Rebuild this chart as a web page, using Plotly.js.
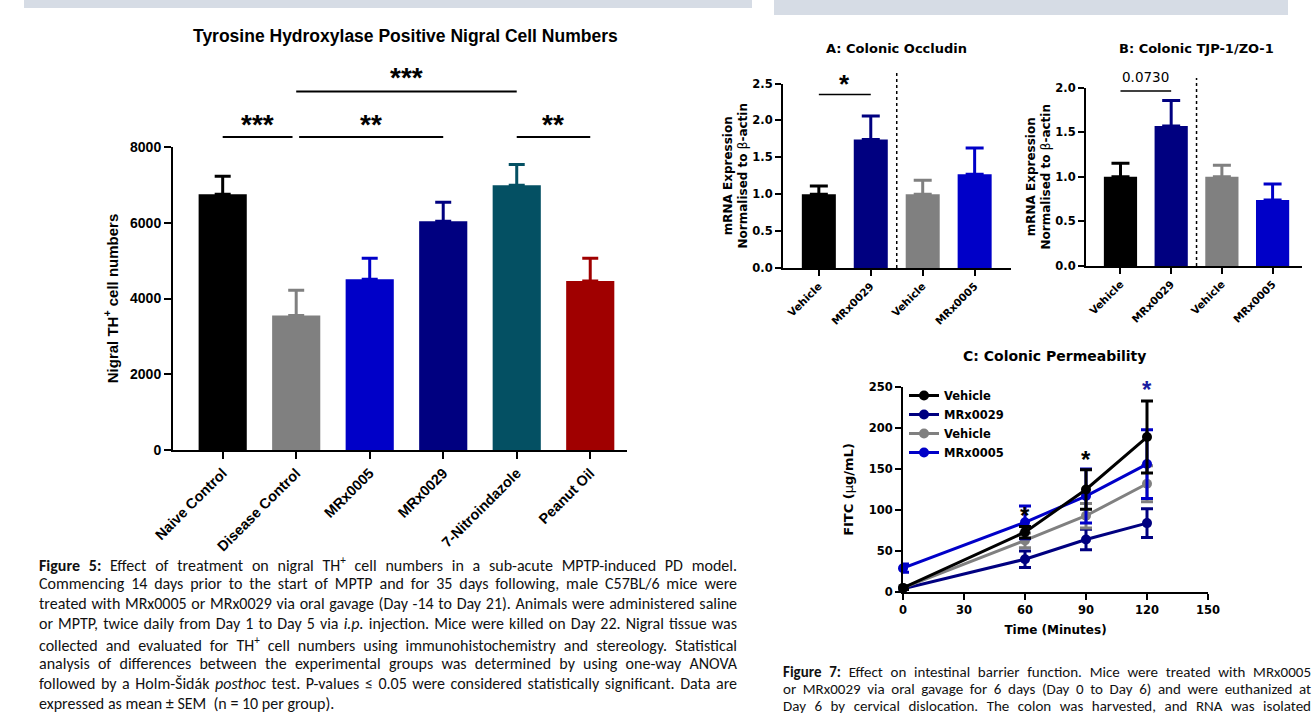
<!DOCTYPE html>
<html><head><meta charset="utf-8">
<script src="https://cdn.plot.ly/plotly-3.0.1.min.js"></script>
<style>html,body{margin:0;padding:0;background:#fff;overflow:hidden}</style>
</head><body>
<div id="chart" style="width:1316px;height:716px"></div>
<script>
// ---------- Figure 5: TH+ nigral cell numbers ----------
const thCategories = ["Naive Control", "Disease Control", "MRx0005", "MRx0029", "7-Nitroindazole", "Peanut Oil"];
const thMeans = [6750, 3550, 4510, 6040, 6990, 4460];
const thSEM = [480, 670, 550, 500, 545, 600];
const thColors = ["#000000", "#808080", "#0000c8", "#000080", "#045063", "#a00000"];
const thYTicks = [0, 2000, 4000, 6000, 8000];

// ---------- Figure 7 A/B: mRNA expression ----------
const geneCategories = ["Vehicle", "MRx0029", "Vehicle", "MRx0005"];
const occludinMeans = [1.00, 1.74, 1.00, 1.27];
const occludinSEM = [0.11, 0.32, 0.19, 0.355];
const tjpMeans = [1.00, 1.57, 1.00, 0.74];
const tjpSEM = [0.15, 0.285, 0.13, 0.18];
const geneColors = ["#000000", "#000080", "#808080", "#0000c8"];

// ---------- Figure 7 C: FITC permeability ----------
const timeMinutes = [0, 60, 90, 120];
const fitcVehicleA = [5, 73, 125, 189];
const fitcVehicleASEM = [2, 7, 24, 44];
const fitcMRx0029 = [4, 40, 64, 84];
const fitcMRx0029SEM = [1, 10, 12.5, 17.5];
const fitcVehicleB = [5, 63, 93, 132];
const fitcVehicleBSEM = [1, 9, 15, 22];
const fitcMRx0005 = [29, 85, 117, 156];
const fitcMRx0005SEM = [5, 20, 33, 42];

// ---------- helpers ----------
const W = 1316, H = 716;
const PX = p => p / W;
const PY = p => 1 - p / H;
const FONT = "Arial, 'Liberation Sans', sans-serif";
const FONT7 = "'DejaVu Sans', Verdana, sans-serif";
const CAPFONT = "Carlito, Calibri, Lato, sans-serif";
const bold = (size, color, fam) => ({family: fam || FONT, size: size, color: color || "#000", weight: 700});
const bold7 = (size, color) => bold(size, color, FONT7);

const traces = [];

// Figure 5 bars (one trace per group so each error bar takes its bar colour)
thCategories.forEach((c, i) => {
  traces.push({
    type: "bar", x: [i], y: [thMeans[i]], width: 0.655, name: c, showlegend: false,
    marker: {color: thColors[i], line: {width: 0}},
    error_y: {type: "data", symmetric: false, array: [thSEM[i]], arrayminus: [0],
      color: thColors[i], thickness: 3, width: 8},
    xaxis: "x", yaxis: "y"
  });
});

// Figure 7 A and B bars
function geneBars(means, sem, xa, ya) {
  geneCategories.forEach((c, i) => {
    traces.push({
      type: "bar", x: [i], y: [means[i]], width: 0.655, name: c, showlegend: false,
      marker: {color: geneColors[i], line: {width: 0}},
      error_y: {type: "data", symmetric: false, array: [sem[i]], arrayminus: [0],
        color: geneColors[i], thickness: 3, width: 9},
      xaxis: xa, yaxis: ya
    });
  });
}
geneBars(occludinMeans, occludinSEM, "x2", "y2");
geneBars(tjpMeans, tjpSEM, "x3", "y3");

// Figure 7 C lines (black vehicle drawn last so it sits on top)
function fitcLine(name, y, e, color, rank) {
  traces.push({
    type: "scatter", mode: "lines+markers", x: timeMinutes, y: y, name: name,
    line: {color: color, width: 3}, marker: {color: color, size: 10},
    error_y: {type: "data", array: e, color: color, thickness: 3, width: 6},
    cliponaxis: false, legendrank: rank, xaxis: "x4", yaxis: "y4"
  });
}
fitcLine("MRx0029", fitcMRx0029, fitcMRx0029SEM, "#000080", 2);
fitcLine("Vehicle", fitcVehicleB, fitcVehicleBSEM, "#808080", 3);
fitcLine("MRx0005", fitcMRx0005, fitcMRx0005SEM, "#0000c8", 4);
fitcLine("Vehicle", fitcVehicleA, fitcVehicleASEM, "#000000", 1);

const axBase = {
  showline: true, linecolor: "#000", linewidth: 2, ticks: "outside", tickcolor: "#000",
  tickwidth: 2, showgrid: false, zeroline: false, fixedrange: true
};
const yTitle7 = "mRNA Expression<br>Normalised to <span style='font-weight:normal'>β</span>-actin";

const layout = {
  width: W, height: H, autosize: false,
  margin: {l: 0, r: 0, t: 0, b: 0, pad: 0},
  paper_bgcolor: "#fff", plot_bgcolor: "rgba(0,0,0,0)",
  barmode: "overlay", font: {family: FONT, color: "#000"},
  showlegend: true,
  legend: {x: PX(904), y: PY(381), xanchor: "left", yanchor: "top", bgcolor: "rgba(0,0,0,0)",
    font: bold7(11.5), itemwidth: 30, tracegroupgap: 0},

  // Figure 5
  xaxis: Object.assign({}, axBase, {domain: [PX(173), PX(627)], range: [-0.676, 5.5],
    tickvals: thCategories.map((c, i) => i), ticktext: thCategories, tickangle: -45,
    ticklen: 7, tickfont: bold(14.5), anchor: "y"}),
  yaxis: Object.assign({}, axBase, {domain: [PY(450), PY(147)], range: [0, 8000],
    tickvals: thYTicks, ticklen: 7, tickfont: bold(14), anchor: "x",
    title: {text: "Nigral TH<sup>+</sup> cell numbers", font: bold(15), standoff: 8}}),

  // Figure 7 A
  xaxis2: Object.assign({}, axBase, {domain: [PX(783), PX(1011)], range: [-0.69, 3.7],
    tickvals: geneCategories.map((c, i) => i), ticktext: geneCategories, tickangle: -45,
    ticklen: 6, tickfont: bold7(10.5), anchor: "y2"}),
  yaxis2: Object.assign({}, axBase, {domain: [PY(268), PY(83.5)], range: [0, 2.5], dtick: 0.5,
    tickformat: ".1f", ticklen: 6, tickfont: bold7(11.5), anchor: "x2",
    title: {text: yTitle7, font: bold7(12), standoff: 2}}),

  // Figure 7 B
  xaxis3: Object.assign({}, axBase, {domain: [PX(1086), PX(1302)], range: [-0.68, 3.58],
    tickvals: geneCategories.map((c, i) => i), ticktext: geneCategories, tickangle: -45,
    ticklen: 6, tickfont: bold7(10.5), anchor: "y3"}),
  yaxis3: Object.assign({}, axBase, {domain: [PY(266), PY(87.5)], range: [0, 2.0], dtick: 0.5,
    tickformat: ".1f", ticklen: 6, tickfont: bold7(11.5), anchor: "x3",
    title: {text: yTitle7, font: bold7(12), standoff: 2}}),

  // Figure 7 C
  xaxis4: Object.assign({}, axBase, {domain: [PX(903), PX(1208)], range: [0, 150], dtick: 30,
    ticklen: 6, tickfont: bold7(11.5), anchor: "y4",
    title: {text: "Time (Minutes)", font: bold7(12), standoff: 10}}),
  yaxis4: Object.assign({}, axBase, {domain: [PY(592), PY(387)], range: [0, 250], dtick: 50,
    ticklen: 6, tickfont: bold7(11.5), anchor: "x4",
    title: {text: "FITC (<span style='font-weight:normal'>μ</span>g/mL)", font: bold7(13), standoff: 12}}),

  shapes: [], annotations: []
};

// header bands
layout.shapes.push({type: "rect", xref: "paper", yref: "paper", x0: PX(24), x1: PX(752), y0: PY(8), y1: 1,
  fillcolor: "#d6dce5", line: {width: 0}, layer: "below"});
layout.shapes.push({type: "rect", xref: "paper", yref: "paper", x0: PX(774), x1: PX(1288), y0: PY(15), y1: 1,
  fillcolor: "#d6dce5", line: {width: 0}, layer: "below"});

// significance brackets: from/to in category index, heights in page pixels
const sigMain = [
  {a: 0, b: 0.95, py: 137, sy: 124.5, t: "***"},
  {a: 1.04, b: 3, py: 137, sy: 124.5, t: "**"},
  {a: 4, b: 5, py: 137, sy: 124.5, t: "**"},
  {a: 1, b: 4, py: 91.5, sy: 77.5, t: "***"}
];
sigMain.forEach(s => {
  layout.shapes.push({type: "line", xref: "x", yref: "paper", x0: s.a, x1: s.b, y0: PY(s.py), y1: PY(s.py),
    line: {color: "#000", width: 2}});
  layout.annotations.push({xref: "x", yref: "paper", x: (s.a + s.b) / 2, y: PY(s.sy),
    text: s.t, showarrow: false, font: bold(28), yanchor: "middle"});
});
// A
layout.shapes.push({type: "line", xref: "x2", yref: "paper", x0: 0, x1: 1, y0: PY(94.5), y1: PY(94.5), line: {color: "#000", width: 1.5}});
layout.annotations.push({xref: "x2", yref: "paper", x: 0.5, y: PY(84.5), text: "*", showarrow: false, font: bold(26), yanchor: "middle"});
layout.shapes.push({type: "line", xref: "x2", yref: "paper", x0: 1.5, x1: 1.5, y0: PY(268), y1: PY(73), line: {color: "#000", width: 1.5, dash: "dot"}});
// B
layout.shapes.push({type: "line", xref: "x3", yref: "paper", x0: 0, x1: 1, y0: PY(91), y1: PY(91), line: {color: "#000", width: 1.5}});
layout.annotations.push({xref: "x3", yref: "paper", x: 0.5, y: PY(76.5), text: "0.0730", showarrow: false,
  yanchor: "middle", font: {family: FONT7, size: 13.5, color: "#000"}});
layout.shapes.push({type: "line", xref: "x3", yref: "paper", x0: 1.5, x1: 1.5, y0: PY(266), y1: PY(78), line: {color: "#000", width: 1.5, dash: "dot"}});
// C stars
layout.annotations.push({xref: "x4", yref: "y4", x: 60, y: 93, text: "*", showarrow: false, font: bold(24)});
layout.annotations.push({xref: "x4", yref: "y4", x: 90, y: 161, text: "*", showarrow: false, font: bold(24)});
layout.annotations.push({xref: "x4", yref: "y4", x: 120, y: 247, text: "*", showarrow: false, font: bold(24, "#1c1ca0")});

// panel titles
const titles = [
  {x: 405, y: 36, t: "Tyrosine Hydroxylase Positive Nigral Cell Numbers", f: bold(17.5)},
  {x: 896, y: 48, t: "A: Colonic Occludin", f: bold7(13)},
  {x: 1196, y: 48, t: "B: Colonic TJP-1/ZO-1", f: bold7(13)},
  {x: 1054, y: 356, t: "C: Colonic Permeability", f: bold7(14)}
];
titles.forEach(o => layout.annotations.push({xref: "paper", yref: "paper", x: PX(o.x), y: PY(o.y),
  text: o.t, showarrow: false, font: o.f, xanchor: "center", yanchor: "middle"}));

// captions
const caption5 = [
  "<b>Figure 5:</b> Effect of treatment on nigral TH<sup>+</sup> cell numbers in a sub-acute MPTP-induced PD model.",
  "Commencing 14 days prior to the start of MPTP and for 35 days following, male C57BL/6 mice were",
  "treated with MRx0005 or MRx0029 via oral gavage (Day -14 to Day 21). Animals were administered saline",
  "or MPTP, twice daily from Day 1 to Day 5 via <i>i.p.</i> injection. Mice were killed on Day 22. Nigral tissue was",
  "collected and evaluated for TH<sup>+</sup> cell numbers using immunohistochemistry and stereology. Statistical",
  "analysis of differences between the experimental groups was determined by using one-way ANOVA",
  "followed by a Holm-Šidák <i>posthoc</i> test. P-values ≤ 0.05 were considered statistically significant. Data are",
  "expressed as mean ± SEM  (n = 10 per group)."
];
const caption7 = [
  "<b>Figure 7:</b> Effect on intestinal barrier function. Mice were treated with MRx0005",
  "or MRx0029 via oral gavage for 6 days (Day 0 to Day 6) and were euthanized at",
  "Day 6 by cervical dislocation. The colon was harvested, and RNA was isolated"
];
const justifyJobs = [];
caption5.forEach((t, i) => {
  if (i < caption5.length - 1) justifyJobs.push({idx: layout.annotations.length, width: 698});
  layout.annotations.push({xref: "paper", yref: "paper", x: PX(37), y: PY(564 + i * 19.9),
    text: t, showarrow: false, xanchor: "left", yanchor: "middle", align: "left",
    font: {family: CAPFONT, size: 16, color: "#111"}});
});
caption7.forEach((t, i) => {
  justifyJobs.push({idx: layout.annotations.length, width: 528});
  layout.annotations.push({xref: "paper", yref: "paper", x: PX(781), y: PY(672 + i * 17),
    text: t, showarrow: false, xanchor: "left", yanchor: "middle", align: "left",
    font: {family: CAPFONT, size: 15, color: "#111"}});
});

Plotly.newPlot("chart", traces, layout, {staticPlot: true, displayModeBar: false}).then(gd => {
  // justify caption lines like the source document (word spacing only)
  justifyJobs.forEach(job => {
    const el = gd.querySelector('.annotation[data-index="' + job.idx + '"] text.annotation-text');
    if (!el) return;
    const natural = el.getComputedTextLength();
    const spaces = (el.textContent.match(/ /g) || []).length;
    if (spaces > 0) {
      el.style.wordSpacing = ((job.width - natural) / spaces) + "px";
    }
  });
  // drop empty placeholder text nodes that carry nothing visible
  gd.querySelectorAll("text").forEach(t => {
    if (!t.textContent.trim()) t.remove();
  });
});
</script>
</body></html>
